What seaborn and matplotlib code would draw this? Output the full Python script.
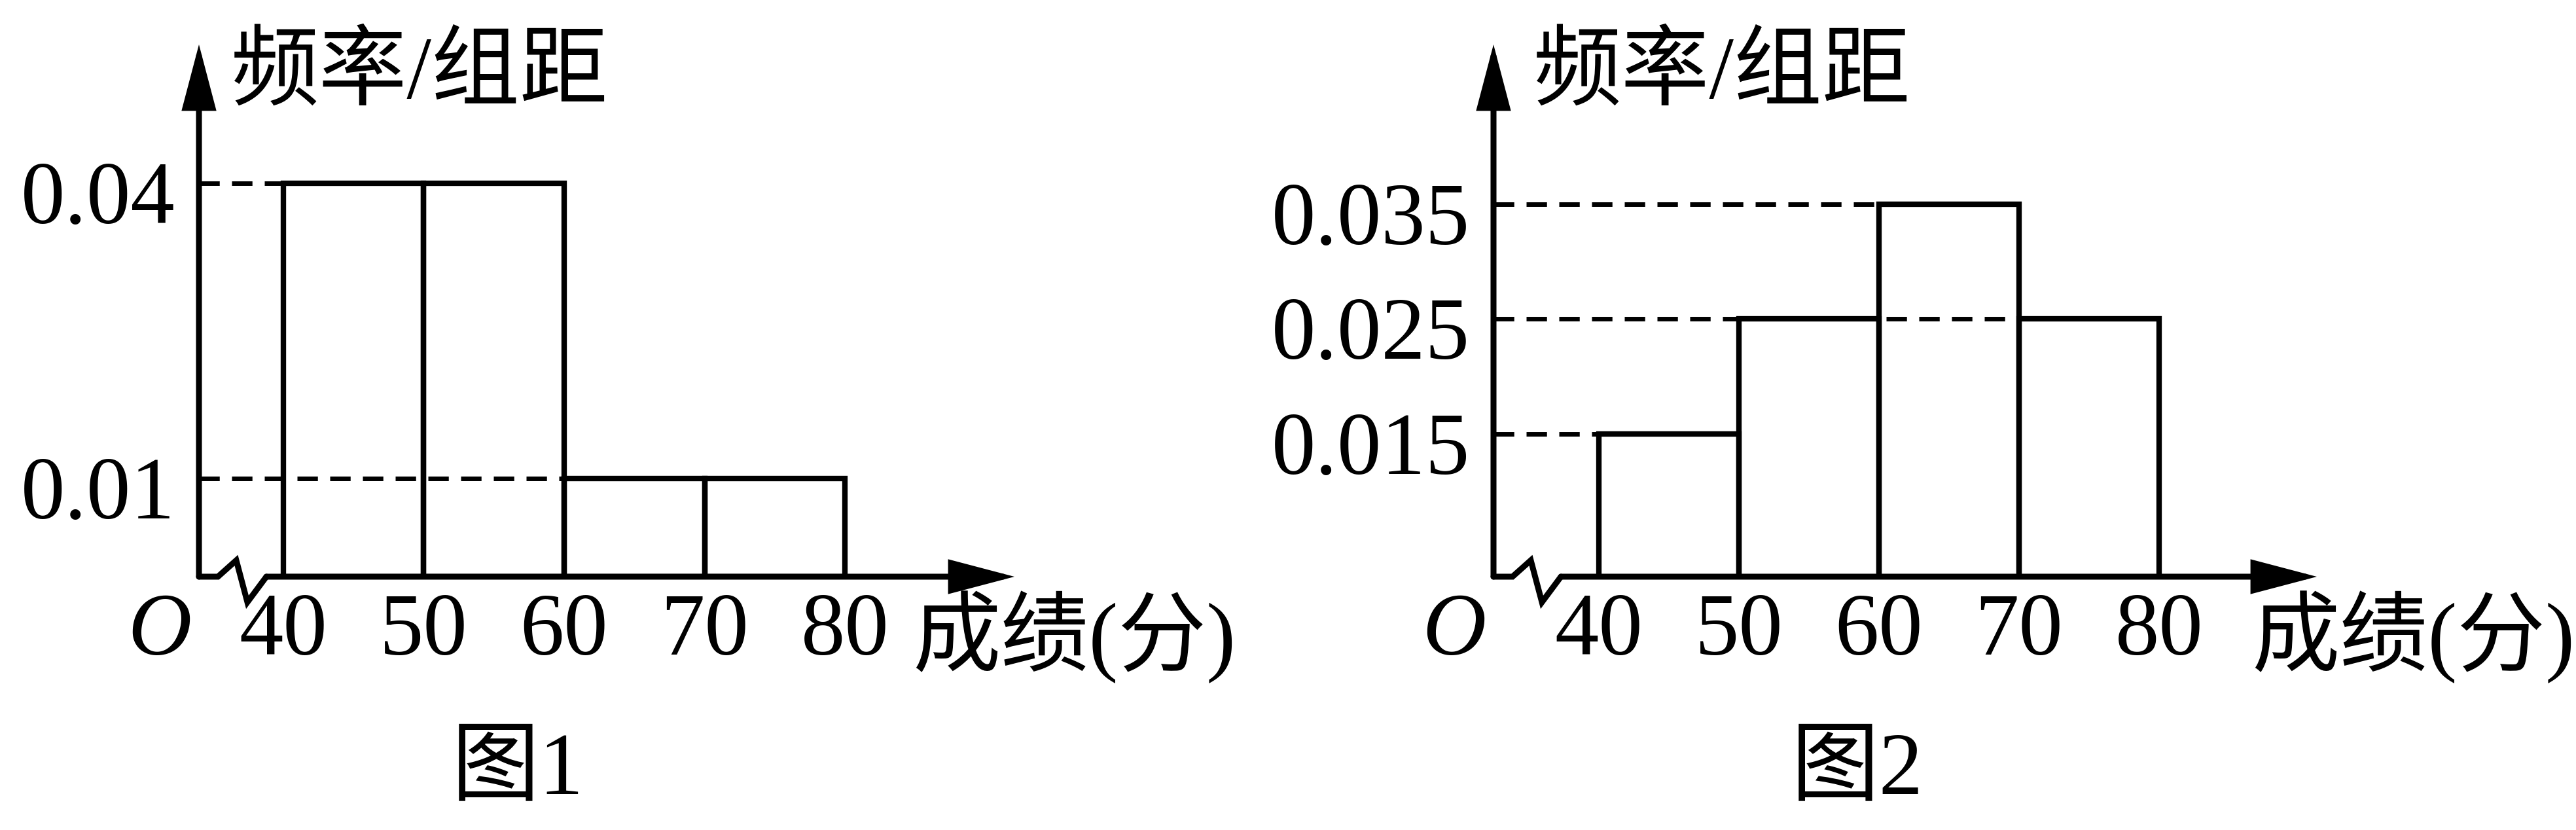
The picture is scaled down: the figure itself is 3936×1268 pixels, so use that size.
import numpy as np
import seaborn as sns
import matplotlib
matplotlib.use('Agg')
import matplotlib.pyplot as plt
from matplotlib.transforms import ScaledTranslation

# class intervals (分) and 频率/组距 for the two histograms
bin_edges = [40, 50, 60, 70, 80]
density_fig1 = [0.04, 0.04, 0.01, 0.01]
density_fig2 = [0.015, 0.025, 0.035, 0.025]
xtick_labels = ['40', '50', '60', '70', '80']
yticks_fig1 = [0.01, 0.04]
ytick_labels_fig1 = ['0.01', '0.04']
yticks_fig2 = [0.015, 0.025, 0.035]
ytick_labels_fig2 = ['0.015', '0.025', '0.035']
titles = ['图1', '图2']
ylabel = '频率/组距'
xlabel = '成绩(分)'

W, H, DPI = 3937, 1268, 100
FS = 97

sns.set_style('white')
plt.rcParams['font.family'] = ['Liberation Serif', 'Noto Sans CJK SC']
plt.rcParams['font.size'] = FS
plt.rcParams['text.color'] = 'black'
plt.rcParams['xtick.color'] = 'black'
plt.rcParams['ytick.color'] = 'black'
plt.rcParams['axes.labelcolor'] = 'black'

# layout in pixels: axes box (left, top, right, bottom) plus text anchors
panels = [
    dict(dens=density_fig1, yticks=yticks_fig1, ylabels=ytick_labels_fig1,
         box=(304, 68, 1550, 881), xlim=(33.99, 92.07), ylim=(0, 0.05411),
         ylabel_x=352, xlabel_x=1394, title_x=690),
    dict(dens=density_fig2, yticks=yticks_fig2, ylabels=ytick_labels_fig2,
         box=(2282, 68, 3540, 881), xlim=(32.48, 91.26), ylim=(0.00256, 0.04889),
         ylabel_x=2342, xlabel_x=3440, title_x=2737),
]


def fx(px):
    return px / W


def fy(py):
    return 1 - py / H


fig = plt.figure(figsize=(W / DPI, H / DPI), dpi=DPI)
mids = [(a + b) / 2 for a, b in zip(bin_edges[:-1], bin_edges[1:])]
lefts = np.array(bin_edges[:-1])

for p, title in zip(panels, titles):
    l, t, r, b = p['box']
    ax = fig.add_axes([fx(l), fy(b), (r - l) / W, (b - t) / H])
    ax.patch.set_alpha(0)

    sns.histplot(x=mids, weights=p['dens'], bins=bin_edges, stat='count',
                 fill=False, color='black', linewidth=6, ax=ax)

    # dashed guide lines from the y axis to the bar tops
    d = np.array(p['dens'])
    for h in np.unique(d):
        ax.hlines(h, p['xlim'][0], lefts[d == h].max(), colors='black',
                  linestyles=(0, (4.5, 2.7)), linewidth=5, zorder=0)

    ax.set_xlim(*p['xlim'])
    ax.set_ylim(*p['ylim'])
    ax.set_xlabel('')
    ax.set_ylabel('')
    sns.despine(ax=ax, left=True, bottom=True, top=True, right=True)

    ax.set_xticks(bin_edges, xtick_labels)
    ax.set_yticks(p['yticks'], p['ylabels'])
    ax.tick_params(axis='x', length=0, pad=86, labelsize=FS)
    ax.tick_params(axis='y', length=0, pad=26, labelsize=FS)
    for lab in ax.get_xticklabels():
        lab.set_va('baseline')
    shift = ScaledTranslation(0, -61 / DPI, fig.dpi_scale_trans)
    for lab in ax.get_yticklabels():
        lab.set_va('baseline')
        lab.set_transform(lab.get_transform() + shift)

    # axes with arrows and a break mark near the origin
    aw, ah = r - l, b - t
    arrow_kw = dict(arrowstyle='-|>,head_length=2.85,head_width=0.75',
                    mutation_scale=20, color='black', linewidth=6.5,
                    shrinkA=0, shrinkB=0, joinstyle='miter')
    ax.annotate('', xy=(0, 1), xytext=(0, 0), xycoords='axes fraction',
                arrowprops=arrow_kw, annotation_clip=False)
    ax.annotate('', xy=(1, 0), xytext=(103 / aw, 0), xycoords='axes fraction',
                arrowprops=arrow_kw, annotation_clip=False)
    zx = np.array([0, 29, 57, 74, 103]) / aw
    zy = np.array([0, 0, 25, -39, 0]) / ah
    ax.plot(zx, zy, color='black', linewidth=6.5, transform=ax.transAxes,
            clip_on=False, solid_joinstyle='miter')

    fig.text(fx(p['ylabel_x']), fy(150), ylabel, ha='left', va='baseline')
    fig.text(fx(l - 60), fy(1000), 'O', style='italic', ha='center', va='baseline')
    fig.text(fx(p['xlabel_x']), fy(1015), xlabel, ha='left', va='baseline')
    fig.text(fx(p['title_x']), fy(1212), title, ha='left', va='baseline')

fig.savefig('out.png', dpi=DPI)
